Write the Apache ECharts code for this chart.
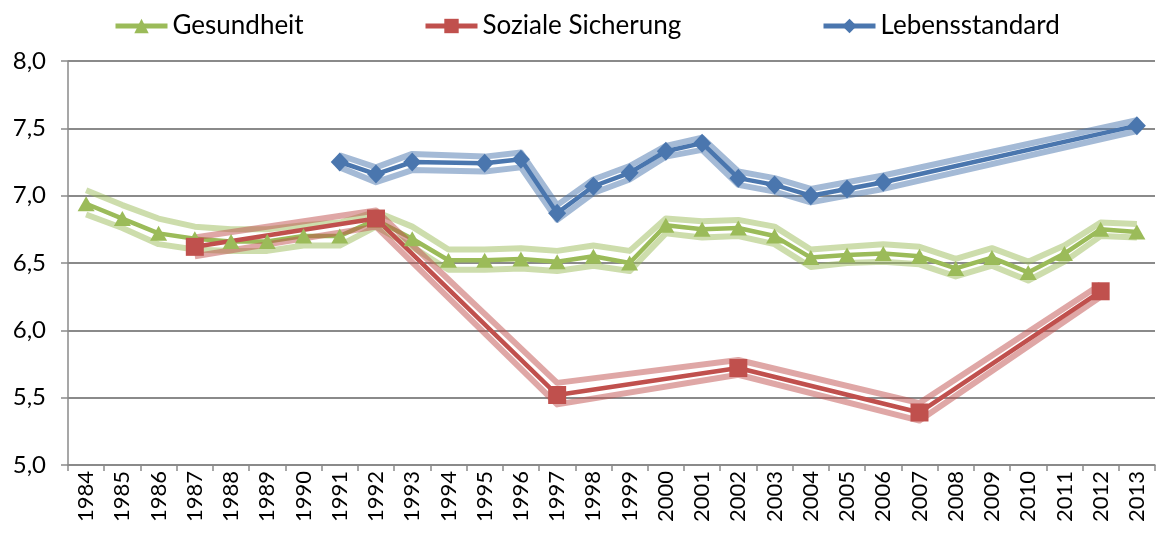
<!DOCTYPE html>
<html>
<head>
<meta charset="utf-8">
<script src="https://cdn.jsdelivr.net/npm/echarts@6/dist/echarts.min.js"></script>
<style>html,body{margin:0;padding:0;background:#fff}#c{width:1157px;height:536px}</style>
</head>
<body>
<div id="c"></div>
<script>
var years = ['1984','1985','1986','1987','1988','1989','1990','1991','1992','1993','1994','1995','1996','1997','1998','1999','2000','2001','2002','2003','2004','2005','2006','2007','2008','2009','2010','2011','2012','2013'];
var yTicks = [5.0, 5.5, 6.0, 6.5, 7.0, 7.5, 8.0];

var gesundheit = [6.94,6.83,6.72,6.68,6.66,6.66,6.70,6.70,6.82,6.68,6.52,6.52,6.53,6.51,6.55,6.50,6.78,6.75,6.76,6.70,6.54,6.56,6.57,6.55,6.46,6.54,6.43,6.57,6.75,6.73];
var gesundheitHigh = [7.04,6.93,6.83,6.77,6.75,6.75,6.78,6.80,6.88,6.77,6.60,6.60,6.61,6.59,6.63,6.59,6.83,6.81,6.82,6.77,6.60,6.62,6.64,6.62,6.53,6.61,6.51,6.63,6.80,6.79];
var gesundheitLow = [6.86,6.76,6.64,6.60,6.59,6.59,6.63,6.63,6.77,6.62,6.45,6.45,6.46,6.44,6.48,6.44,6.72,6.69,6.70,6.64,6.47,6.50,6.51,6.49,6.40,6.48,6.37,6.51,6.70,6.69];

var sozial = [null,null,null,6.62,null,null,null,null,6.83,null,null,null,null,5.52,null,null,null,null,5.72,null,null,null,null,5.39,null,null,null,null,6.29,null];
var sozialHigh = [null,null,null,6.69,null,null,null,null,6.89,null,null,null,null,5.61,null,null,null,null,5.78,null,null,null,null,5.46,null,null,null,null,6.34,null];
var sozialLow = [null,null,null,6.55,null,null,null,null,6.77,null,null,null,null,5.45,null,null,null,null,5.67,null,null,null,null,5.33,null,null,null,null,6.25,null];

var leben = [null,null,null,null,null,null,null,7.25,7.16,7.25,null,7.24,7.27,6.87,7.07,7.17,7.33,7.39,7.13,7.08,7.00,7.05,7.10,null,null,null,null,null,null,7.52];
var lebenHigh = [null,null,null,null,null,null,null,7.30,7.21,7.31,null,7.29,7.32,6.93,7.12,7.22,7.37,7.43,7.18,7.13,7.05,7.10,7.15,null,null,null,null,null,null,7.56];
var lebenLow = [null,null,null,null,null,null,null,7.21,7.10,7.19,null,7.18,7.21,6.82,7.02,7.12,7.29,7.34,7.08,7.03,6.95,7.00,7.05,null,null,null,null,null,null,7.48];

var GREEN = '#9BBB59', RED = '#C0504D', BLUE = '#4A76AE';
var GREEN_B = 'rgba(155,187,89,0.5)', RED_B = 'rgba(192,80,77,0.5)', BLUE_B = 'rgba(74,118,174,0.5)';

function band(name, data, color) {
  return {name: name, type: 'line', data: data, connectNulls: true, showSymbol: false, symbol: 'none',
    lineStyle: {color: color, width: 6, join: 'round'}, silent: true, animation: false};
}
function main(name, data, color, symbol, size) {
  return {name: name, type: 'line', data: data, connectNulls: true, symbol: symbol, symbolSize: size,
    showAllSymbol: true, itemStyle: {color: color}, lineStyle: {color: color, width: 4.5, join: 'round'}, animation: false};
}

var legendText = {fontFamily: 'Lato', fontSize: 26, color: '#000'};
function leg(name, left) {
  return {data: [name], left: left, top: 8, itemWidth: 52, itemHeight: 18, textStyle: legendText,
    lineStyle: {width: 5}};
}
var chart = echarts.init(document.getElementById('c'), null, {renderer: 'canvas'});
chart.setOption({
  backgroundColor: '#fff',
  textStyle: {fontFamily: 'Lato'},
  legend: [leg('Gesundheit', 108), leg('Soziale Sicherung', 418), leg('Lebensstandard', 816)],
  grid: {left: 68, right: 2, top: 61, bottom: 71, containLabel: false},
  xAxis: {
    type: 'category', data: years, boundaryGap: true,
    axisLine: {lineStyle: {color: '#8a8a8a', width: 1.5}},
    axisTick: {show: true, interval: 0, length: 6, lineStyle: {color: '#8a8a8a', width: 1.5}},
    axisLabel: {interval: 0, rotate: 90, fontSize: 22, color: '#000', fontFamily: 'Lato', margin: 6},
    splitLine: {show: false}
  },
  yAxis: {
    type: 'value', min: yTicks[0], max: yTicks[yTicks.length - 1], interval: 0.5,
    axisLine: {show: true, lineStyle: {color: '#8a8a8a', width: 1.5}},
    axisTick: {show: true, length: 7, lineStyle: {color: '#8a8a8a', width: 1.5}},
    axisLabel: {fontSize: 24, color: '#000', fontFamily: 'Lato', margin: 22,
      formatter: function (v) { return v.toFixed(1).replace('.', ','); }},
    splitLine: {show: true, lineStyle: {color: '#8a8a8a', width: 2}}
  },
  series: [
    band('gH', gesundheitHigh, GREEN_B),
    band('gL', gesundheitLow, GREEN_B),
    main('Gesundheit', gesundheit, GREEN, 'triangle', [17, 15]),
    band('sH', sozialHigh, RED_B),
    band('sL', sozialLow, RED_B),
    main('Soziale Sicherung', sozial, RED, 'rect', 18),
    band('lH', lebenHigh, BLUE_B),
    band('lL', lebenLow, BLUE_B),
    main('Lebensstandard', leben, BLUE, 'diamond', [18, 19])
  ]
});
</script>
</body>
</html>
